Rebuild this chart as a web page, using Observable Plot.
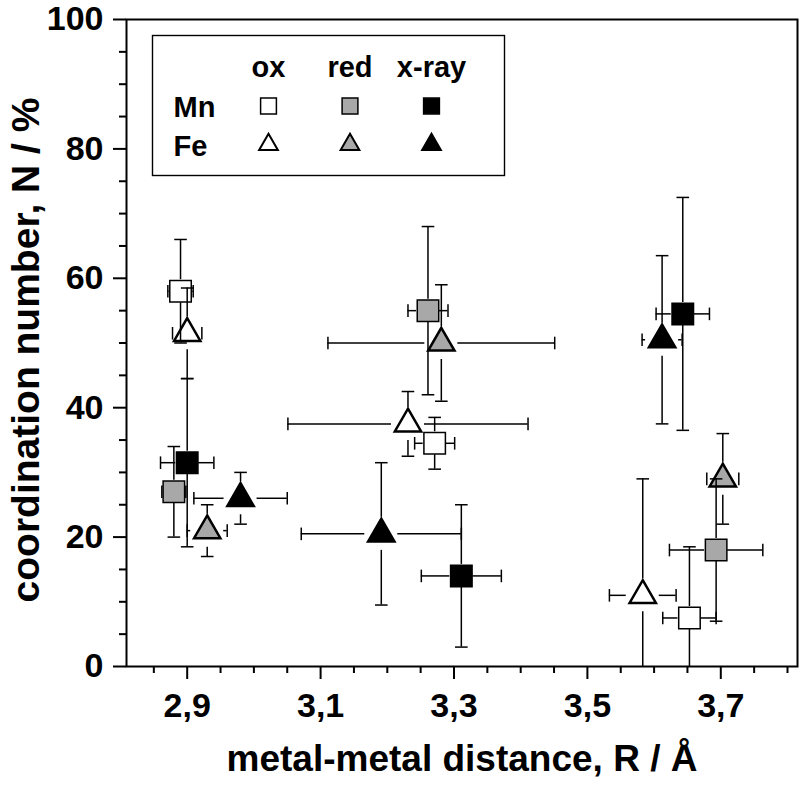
<!DOCTYPE html>
<html><head><meta charset="utf-8">
<script src="https://cdn.jsdelivr.net/npm/d3@7"></script>
<script src="https://cdn.jsdelivr.net/npm/@observablehq/plot@0.6"></script>
<style>
html,body{margin:0;padding:0;background:#fff;overflow:hidden;}
#chart svg{display:block;}
</style></head><body><div id="chart"></div>
<script>
// ---- tick labels ----
const xTicks = [2.9, 3.1, 3.3, 3.5, 3.7];
const xTickLabels = ["2,9", "3,1", "3,3", "3,5", "3,7"];
const xMinorTicks = [2.85, 2.95, 3.0, 3.05, 3.15, 3.2, 3.25, 3.35, 3.4, 3.45, 3.55, 3.6, 3.65, 3.75, 3.8];
const yTicks = [0, 20, 40, 60, 80, 100];
const yMinorTicks = [5, 10, 15, 25, 30, 35, 45, 50, 55, 65, 70, 75, 85, 90, 95];
const xTitle = "metal-metal distance, R / Å";
const yTitle = "coordination number, N / %";

// ---- categories ----
const metals = ["Mn", "Fe"];
const states = ["ox", "red", "x-ray"];

// ---- series values: R (Å), N (%), R error, N error ----
const mnOxR = [2.890, 3.271, 3.653];
const mnOxN = [58.0, 34.5, 7.5];
const mnOxRErr = [0.019, 0.030, 0.040];
const mnOxNErr = [8, 4, 11];

const mnRedR = [2.880, 3.261, 3.693];
const mnRedN = [27.0, 55.0, 18.0];
const mnRedRErr = [0.018, 0.030, 0.070];
const mnRedNErr = [7, 13, 11];

const mnXrayR = [2.900, 3.311, 3.643];
const mnXrayN = [31.5, 14.0, 54.5];
const mnXrayRErr = [0.040, 0.060, 0.040];
const mnXrayNErr = [13, 11, 18];

const feOxR = [2.900, 3.231, 3.583];
const feOxN = [51.5, 37.5, 11.0];
const feOxRErr = [0.022, 0.180, 0.050];
const feOxNErr = [7, 5, 18];

const feRedR = [2.930, 3.281, 3.703];
const feRedN = [21.0, 50.0, 29.0];
const feRedRErr = [0.030, 0.170, 0.024];
const feRedNErr = [4, 9, 7];

const feXrayR = [2.980, 3.191, 3.612];
const feXrayN = [26.0, 20.5, 50.5];
const feXrayRErr = [0.070, 0.120, 0.030];
const feXrayNErr = [4, 11, 13];

// ---- layout / styles ----
const W = 800, H = 785;
const mL = 126, mR = 3, mT = 19, mB = 119;
const xDomain = [2.809, 3.815], yDomain = [0, 100];
const pxX = (W - mL - mR) / (xDomain[1] - xDomain[0]);
const pxY = (H - mT - mB) / (yDomain[1] - yDomain[0]);
const fills = {"ox": "white", "red": "#a8a8a8", "x-ray": "black"};
const FONT = "'Liberation Sans', Arial, Helvetica, sans-serif";

const squareSym = {draw(ctx, size) { const s = Math.sqrt(size / Math.PI); ctx.rect(-s, -s, 2 * s, 2 * s); }};
const triSym = {draw(ctx, size) { const a = Math.sqrt(size / Math.PI); const k = Math.sqrt(3);
  ctx.moveTo(0, -2 * a); ctx.lineTo(a * k, a); ctx.lineTo(-a * k, a); ctx.closePath(); }};
const hCap = {draw(ctx, size) { const h = Math.sqrt(size / Math.PI); ctx.moveTo(-h, 0); ctx.lineTo(h, 0); }};
const vCap = {draw(ctx, size) { const h = Math.sqrt(size / Math.PI); ctx.moveTo(0, -h); ctx.lineTo(0, h); }};

const seriesDefs = [
  {metal: "Mn", state: "ox", R: mnOxR, N: mnOxN, dR: mnOxRErr, dN: mnOxNErr},
  {metal: "Mn", state: "red", R: mnRedR, N: mnRedN, dR: mnRedRErr, dN: mnRedNErr},
  {metal: "Mn", state: "x-ray", R: mnXrayR, N: mnXrayN, dR: mnXrayRErr, dN: mnXrayNErr},
  {metal: "Fe", state: "ox", R: feOxR, N: feOxN, dR: feOxRErr, dN: feOxNErr},
  {metal: "Fe", state: "red", R: feRedR, N: feRedN, dR: feRedRErr, dN: feRedNErr},
  {metal: "Fe", state: "x-ray", R: feXrayR, N: feXrayN, dR: feXrayRErr, dN: feXrayNErr}
];

const rows = [];
for (const s of seriesDefs) {
  s.R.forEach((r, i) => rows.push({metal: s.metal, state: s.state, R: r, N: s.N[i], dR: s.dR[i], dN: s.dN[i]}));
}

const isSq = m => m === "Mn";
const gapOf = d => isSq(d.metal) ? 11.5 : 16.5;   // px gap around own symbol

const armsV = [], armsH = [], capsH = [], capsV = [];
for (const d of rows) {
  const g = gapOf(d);
  if (d.dN * pxY > g) {
    armsV.push({x: d.R, y1: d.N + g / pxY, y2: d.N + d.dN});
    armsV.push({x: d.R, y1: d.N - g / pxY, y2: d.N - d.dN});
  }
  if (d.dR * pxX > g) {
    armsH.push({y: d.N, x1: d.R + g / pxX, x2: d.R + d.dR});
    armsH.push({y: d.N, x1: d.R - g / pxX, x2: d.R - d.dR});
  }
  capsH.push({x: d.R, y: d.N + d.dN}, {x: d.R, y: d.N - d.dN});
  capsV.push({x: d.R + d.dR, y: d.N}, {x: d.R - d.dR, y: d.N});
}

const marks = [];
// symbols first
for (const s of seriesDefs) {
  const data = rows.filter(d => d.metal === s.metal && d.state === s.state);
  const sq = isSq(s.metal);
  marks.push(Plot.dot(data, {x: "R", y: "N", symbol: sq ? squareSym : triSym, r: sq ? 10.75 : 7.6,
    fill: fills[s.state], stroke: "black", strokeWidth: sq ? 1.5 : 2.5, strokeLinejoin: "miter"}));
}
// error bars on top
marks.push(Plot.ruleX(armsV, {x: "x", y1: "y1", y2: "y2", stroke: "black", strokeWidth: 1.5, clip: true}));
marks.push(Plot.ruleY(armsH, {y: "y", x1: "x1", x2: "x2", stroke: "black", strokeWidth: 1.5, clip: true}));
marks.push(Plot.dot(capsH, {x: "x", y: "y", symbol: hCap, r: 6.3, stroke: "black", strokeWidth: 1.5, fill: "none", clip: true}));
marks.push(Plot.dot(capsV, {x: "x", y: "y", symbol: vCap, r: 6.3, stroke: "black", strokeWidth: 1.5, fill: "none", clip: true}));

// legend (inside the frame)
const legLeft = 26, legTop = 16, legRight = 293, legBottom = 491;
marks.push(Plot.frame({insetLeft: legLeft, insetTop: legTop, insetRight: legRight, insetBottom: legBottom, stroke: "black", strokeWidth: 1.4}));
const colX = [142, 223.5, 305];
states.forEach((st, j) => {
  marks.push(Plot.text([st], {frameAnchor: "top-left", dx: colX[j], dy: 57.5, textAnchor: "middle", lineAnchor: "bottom", fontSize: 29}));
});
metals.forEach((m, i) => {
  marks.push(Plot.text([m], {frameAnchor: "top-left", dx: 47, dy: i === 0 ? 97.5 : 136, textAnchor: "start", lineAnchor: "bottom", fontSize: 29}));
  states.forEach((st, j) => {
    const sq = isSq(m);
    marks.push(Plot.dot([0], {frameAnchor: "top-left", dx: colX[j], dy: sq ? 86.5 : 125,
      symbol: sq ? squareSym : triSym, r: sq ? 7.9 : 5.4, fill: fills[st], stroke: "black",
      strokeWidth: sq ? 1.5 : 2, strokeLinejoin: "miter"}));
  });
});

// axes
marks.push(Plot.axisX({ticks: xMinorTicks, tickSize: 7, tickFormat: () => "", label: null, strokeWidth: 2}));
marks.push(Plot.axisX({ticks: xTicks, tickSize: 13, tickPadding: 13, fontSize: 34, label: null, strokeWidth: 2,
  tickFormat: d => xTickLabels[xTicks.indexOf(d)]}));
marks.push(Plot.axisY({ticks: yMinorTicks, tickSize: 7, tickFormat: () => "", label: null, strokeWidth: 2}));
marks.push(Plot.axisY({ticks: yTicks, tickSize: 13, tickPadding: 10, fontSize: 34, label: null, strokeWidth: 2}));
marks.push(Plot.frame({stroke: "black", strokeWidth: 2}));
marks.push(Plot.text([xTitle], {frameAnchor: "bottom", dy: 104, lineAnchor: "bottom", textAnchor: "middle", fontSize: 37}));
marks.push(Plot.text([yTitle], {frameAnchor: "left", dx: -100, dy: 7, rotate: -90, lineAnchor: "middle", textAnchor: "middle", fontSize: 39}));

const chart = Plot.plot({
  width: W, height: H,
  marginLeft: mL, marginRight: mR, marginTop: mT, marginBottom: mB,
  x: {domain: xDomain},
  y: {domain: yDomain},
  style: {fontFamily: FONT, fontWeight: "bold", color: "black", background: "white", overflow: "visible"},
  marks
});
document.getElementById("chart").appendChild(chart);
</script>
</body></html>
